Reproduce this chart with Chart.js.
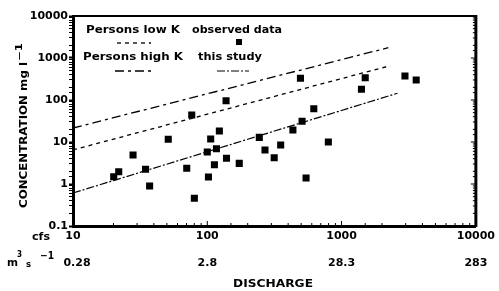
<!DOCTYPE html>
<html>
<head>
<meta charset="utf-8">
<script src="https://cdn.jsdelivr.net/npm/chart.js@4"></script>
<style>
  html, body { margin: 0; padding: 0; background: #fff; }
</style>
</head>
<body>
<canvas id="G1" width="499" height="291"></canvas>
<script>
// observed data (discharge in cfs, concentration in mg/l)
const discharge = [76.6, 51.2, 28, 21.9, 20.1, 34.7, 37.2, 70.3, 80.1, 100, 106, 102, 123, 117, 113, 138,
  139, 173, 244, 269, 315, 352, 434, 494, 508, 544, 621, 797, 1500, 1406, 2965, 3594];
const concentration = [44, 11.6, 4.9, 1.96, 1.49, 2.24, 0.9, 2.37, 0.46, 5.8, 11.8, 1.47, 18.3, 6.9, 2.88, 96,
  4.1, 3.1, 12.9, 6.45, 4.2, 8.5, 19.3, 329, 31.1, 1.39, 62, 10, 340, 180, 373, 299];

// fitted lines (end points)
const lowKQ = [10, 2300];
const lowKC = [6.5, 656];
const highKQ = [10, 2230];
const highKC = [21.5, 1760];
const studyQ = [10, 2610];
const studyC = [0.61, 145];

const xTicks = [10, 100, 1000, 10000];
const m3Labels = ['0.28', '2.8', '28.3', '283'];
const yTicks = [0.1, 1, 10, 100, 1000, 10000];

const FONT = "'DejaVu Sans', sans-serif";
const pts = (xs, ys) => xs.map((x, i) => ({ x: x, y: ys[i] }));
const findTick = (list, v) => list.find(t => Math.abs(Math.log10(v / t)) < 1e-6);
const isPow10 = v => Math.abs(Math.log10(v) - Math.round(Math.log10(v))) < 1e-6;

// draw text squeezed/stretched to a given width
function fitText(ctx, txt, x, y, w, size) {
  ctx.font = 'bold ' + size + 'px ' + FONT;
  const m = ctx.measureText(txt).width;
  ctx.save();
  ctx.translate(x, y);
  ctx.scale(w / m, 1);
  ctx.textAlign = 'left';
  ctx.textBaseline = 'middle';
  ctx.fillText(txt, 0, 0);
  ctx.restore();
}

const extras = {
  id: 'extras',
  afterDraw(chart) {
    const ctx = chart.ctx;
    const { left, right, top, bottom } = chart.chartArea;
    const xs = chart.scales.x, ys = chart.scales.y;
    ctx.save();
    ctx.strokeStyle = '#000';
    ctx.fillStyle = '#000';
    // top and right frame
    ctx.lineWidth = 2;
    ctx.beginPath(); ctx.moveTo(left, top); ctx.lineTo(right + 1, top); ctx.stroke();
    ctx.lineWidth = 3;
    ctx.beginPath(); ctx.moveTo(right, top - 1); ctx.lineTo(right, bottom + 1); ctx.stroke();
    // inward ticks on bottom and right
    ctx.lineWidth = 1;
    xs.ticks.forEach(t => {
      const px = xs.getPixelForValue(t.value);
      const len = isPow10(t.value) ? 5 : 3;
      ctx.beginPath(); ctx.moveTo(px, bottom); ctx.lineTo(px, bottom - len); ctx.stroke();
    });
    ys.ticks.forEach(t => {
      const py = ys.getPixelForValue(t.value);
      const len = isPow10(t.value) ? 5 : 3;
      ctx.beginPath(); ctx.moveTo(right, py); ctx.lineTo(right - len, py); ctx.stroke();
    });

    // second row of x labels
    ctx.font = 'bold 11px ' + FONT;
    ctx.textAlign = 'center';
    ctx.textBaseline = 'middle';
    xTicks.forEach((t, i) => {
      ctx.fillText(m3Labels[i], xs.getPixelForValue(t) + (i === 0 ? 4 : 0), 263);
    });
    fitText(ctx, 'cfs', 32, 237, 18, 10);
    fitText(ctx, 'm', 7, 263, 11, 11);
    fitText(ctx, '3', 17, 255, 5, 9);
    fitText(ctx, 's', 26, 265, 5, 9);
    fitText(ctx, '\u22121', 40, 256, 14, 10);
    fitText(ctx, 'DISCHARGE', 233, 284, 80, 10);

    // y title
    ctx.save();
    ctx.translate(24, 208);
    ctx.rotate(-Math.PI / 2);
    fitText(ctx, 'CONCENTRATION mg l', 0, 0, 146, 10);
    fitText(ctx, '\u22121', 147, -4, 18, 8);
    ctx.restore();

    // legend
    fitText(ctx, 'Persons low K', 86, 30, 94, 10);
    fitText(ctx, 'observed data', 192, 30, 90, 10);
    fitText(ctx, 'Persons high K', 83, 57, 100, 10);
    fitText(ctx, 'this study', 198, 57, 64, 10);
    const ds = chart.data.datasets;
    const sample = (d, x1, x2, y) => {
      ctx.save();
      ctx.lineWidth = d.borderWidth;
      ctx.setLineDash(d.borderDash || []);
      ctx.beginPath(); ctx.moveTo(x1, y); ctx.lineTo(x2, y); ctx.stroke();
      ctx.restore();
    };
    sample(ds[1], 117, 151, 43);
    sample(ds[2], 115, 151, 71);
    sample(ds[3], 217, 249, 71);
    ctx.fillRect(236, 39, 6, 6);
    ctx.restore();
  }
};

new Chart(document.getElementById('G1'), {
  type: 'scatter',
  data: {
    datasets: [
      {
        label: 'observed data',
        data: pts(discharge, concentration),
        pointStyle: 'rect',
        pointRadius: 5,
        backgroundColor: '#000',
        borderColor: '#000',
        borderWidth: 0
      },
      {
        label: 'Persons low K',
        type: 'line',
        data: pts(lowKQ, lowKC),
        borderColor: '#000',
        borderWidth: 1.3,
        borderDash: [4, 4],
        pointRadius: 0,
        fill: false
      },
      {
        label: 'Persons high K',
        type: 'line',
        data: pts(highKQ, highKC),
        borderColor: '#000',
        borderWidth: 1.3,
        borderDash: [9, 4, 3, 4],
        pointRadius: 0,
        fill: false
      },
      {
        label: 'this study',
        type: 'line',
        data: pts(studyQ, studyC),
        borderColor: '#000',
        borderWidth: 1.2,
        borderDash: [8, 2, 2, 2],
        pointRadius: 0,
        fill: false
      }
    ]
  },
  options: {
    responsive: false,
    animation: false,
    devicePixelRatio: 1,
    layout: { padding: { top: 16, right: 20, left: 0, bottom: 0 } },
    plugins: { legend: { display: false }, tooltip: { enabled: false } },
    scales: {
      x: {
        type: 'logarithmic',
        min: 10,
        max: 10000,
        afterFit: s => { s.height = 65; },
        border: { display: true, width: 3, color: '#000' },
        grid: { drawOnChartArea: false, drawTicks: false },
        ticks: {
          autoSkip: false,
          maxRotation: 0,
          minRotation: 0,
          padding: 4,
          color: '#000',
          font: { family: FONT, size: 11, weight: 'bold' },
          callback: v => { const t = findTick(xTicks, v); return t === undefined ? '' : String(t); }
        }
      },
      y: {
        type: 'logarithmic',
        min: 0.1,
        max: 10000,
        afterFit: s => { s.width = 73; },
        border: { display: true, width: 3, color: '#000' },
        grid: {
          drawOnChartArea: false,
          drawTicks: true,
          tickLength: 4,
          color: '#000',
          tickWidth: c => (c.tick && isPow10(c.tick.value)) ? 2 : 1
        },
        ticks: {
          autoSkip: false,
          padding: 1,
          color: '#000',
          font: { family: FONT, size: 11, weight: 'bold' },
          callback: v => { const t = findTick(yTicks, v); return t === undefined ? '' : String(t); }
        }
      }
    }
  },
  plugins: [extras]
});
</script>
</body>
</html>
